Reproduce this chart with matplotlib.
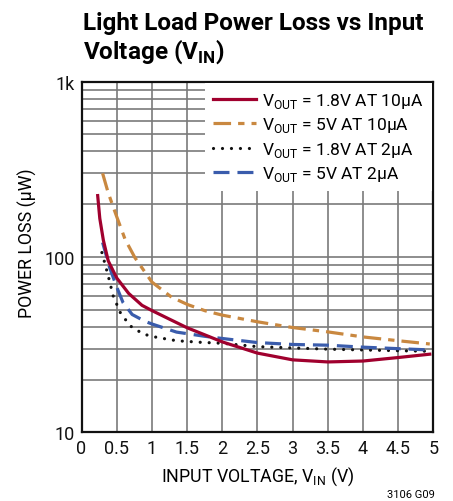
import matplotlib
matplotlib.use("Agg")
import matplotlib.pyplot as plt
from matplotlib import font_manager as fm

names = {f.name for f in fm.fontManager.ttflist}
NARROW = 'Liberation Sans Narrow' if 'Liberation Sans Narrow' in names else 'Roboto'
plt.rcParams['font.family'] = [NARROW, 'DejaVu Sans']
plt.rcParams['mathtext.fontset'] = 'custom'
plt.rcParams['mathtext.rm'] = NARROW
plt.rcParams['mathtext.bf'] = NARROW + ':bold'

# ---- data ----
x_red = [0.23, 0.26, 0.31, 0.38, 0.5, 0.67, 0.86, 1.0, 1.26, 1.5, 1.75, 2.0, 2.5, 3.0, 3.5, 4.0, 4.5, 4.95]
y_red = [224, 166, 125, 95, 76, 62, 53, 49.5, 44, 39.5, 36, 32.8, 28.3, 25.9, 25.2, 25.5, 26.7, 27.9]

x_org = [0.3, 0.38, 0.5, 0.62, 0.76, 1.0, 1.28, 1.51, 1.76, 2.0, 2.5, 3.0, 3.5, 4.0, 4.5, 4.95]
y_org = [300, 232, 170, 126, 99, 72, 59, 53.5, 49.3, 46.6, 42.7, 39.6, 37.4, 35, 33.3, 31.9]

x_blk = [0.29, 0.38, 0.45, 0.55, 0.69, 0.88, 1.07, 1.35, 1.7, 2.0, 2.5, 3.0, 3.5, 4.0, 4.5, 4.95]
y_blk = [106, 78, 60, 48.3, 40.5, 36.3, 34.8, 33.3, 32.6, 32.2, 30.8, 30.3, 29.8, 29.5, 29.2, 29.0]

x_blu = [0.3, 0.4, 0.5, 0.59, 0.72, 0.9, 1.0, 1.35, 1.75, 2.0, 2.5, 3.0, 3.5, 4.0, 4.5, 4.95]
y_blu = [121, 87, 67.5, 55, 47, 43, 41.5, 37.3, 35.3, 34.3, 32.5, 31.7, 31.4, 30.6, 30.0, 29.5]

labels = [r"V$_{\rm OUT}$ = 1.8V AT 10µA", r"V$_{\rm OUT}$ = 5V AT 10µA",
          r"V$_{\rm OUT}$ = 1.8V AT 2µA", r"V$_{\rm OUT}$ = 5V AT 2µA"]
xticks = [0, 0.5, 1, 1.5, 2, 2.5, 3, 3.5, 4, 4.5, 5]
xticklabels = ['0', '0.5', '1', '1.5', '2', '2.5', '3', '3.5', '4', '4.5', '5']
yticks = [10, 100, 1000]
yticklabels = ['10', '100', '1k']

fig = plt.figure(figsize=(4.53, 5.02), dpi=100)
W, H = 453, 502
L, R, T, B = 81.5, 433.3, 82.7, 433.3
ax = fig.add_axes([L / W, 1 - B / H, (R - L) / W, (B - T) / H])

ax.plot(x_red, y_red, color='#A0002E', lw=2.3, label=labels[0], zorder=4)
ax.plot(x_org, y_org, color='#C98840', lw=2.3, dashes=(5.5, 2.2, 2, 2.2), label=labels[1], zorder=3)
ax.plot(x_blk, y_blk, color='#111111', lw=2.3, dashes=(0.01, 2.8), dash_capstyle='round',
        solid_capstyle='round', label=labels[2], zorder=3)
ax.plot(x_blu, y_blu, color='#3A5CAC', lw=2.3, dashes=(5, 2.5), label=labels[3], zorder=3)

ax.set_yscale('log')
ax.set_xlim(0, 5)
ax.set_ylim(10, 1000)
ax.set_xticks(xticks)
ax.set_xticklabels(xticklabels)
ax.set_yticks(yticks)
ax.set_yticklabels(yticklabels)
ax.minorticks_on()
ax.xaxis.set_minor_locator(matplotlib.ticker.NullLocator())
ax.yaxis.set_minor_formatter(matplotlib.ticker.NullFormatter())
ax.tick_params(which='both', length=0, labelsize=13, pad=5, colors='#111111')
ax.grid(True, which='both', color='#7a7a7a', lw=1.2)
ax.set_axisbelow(True)
for s in ax.spines.values():
    s.set_linewidth(1.6)
    s.set_color('#111111')

leg = ax.legend(loc='upper right', bbox_to_anchor=(1.0, 1.0), fontsize=12.5,
                handlelength=2.5, handletextpad=0.35, labelspacing=0.3,
                borderpad=0.45, borderaxespad=0.1, frameon=True, fancybox=False)
leg.get_frame().set_facecolor('white')
leg.get_frame().set_edgecolor('none')
leg.get_frame().set_alpha(1)

ax.set_xlabel(r"INPUT VOLTAGE, V$_{\rm IN}$ (V)", fontsize=12.8, labelpad=5)
fig.text(27 / W, 1 - 243 / H, "POWER LOSS (µW)", rotation=90, fontsize=12.8,
         ha='center', va='center')

fig.text(83 / W, 1 - 12 / H, "Light Load Power Loss vs Input\nVoltage (V$_{\\mathbf{IN}}$)",
         fontsize=17.5, fontweight='bold', ha='left', va='top', linespacing=1.1)
fig.text(435 / W, 1 - 495 / H, "3106 G09", fontsize=8, ha='right', va='center')

fig.savefig('out.png', dpi=100)
